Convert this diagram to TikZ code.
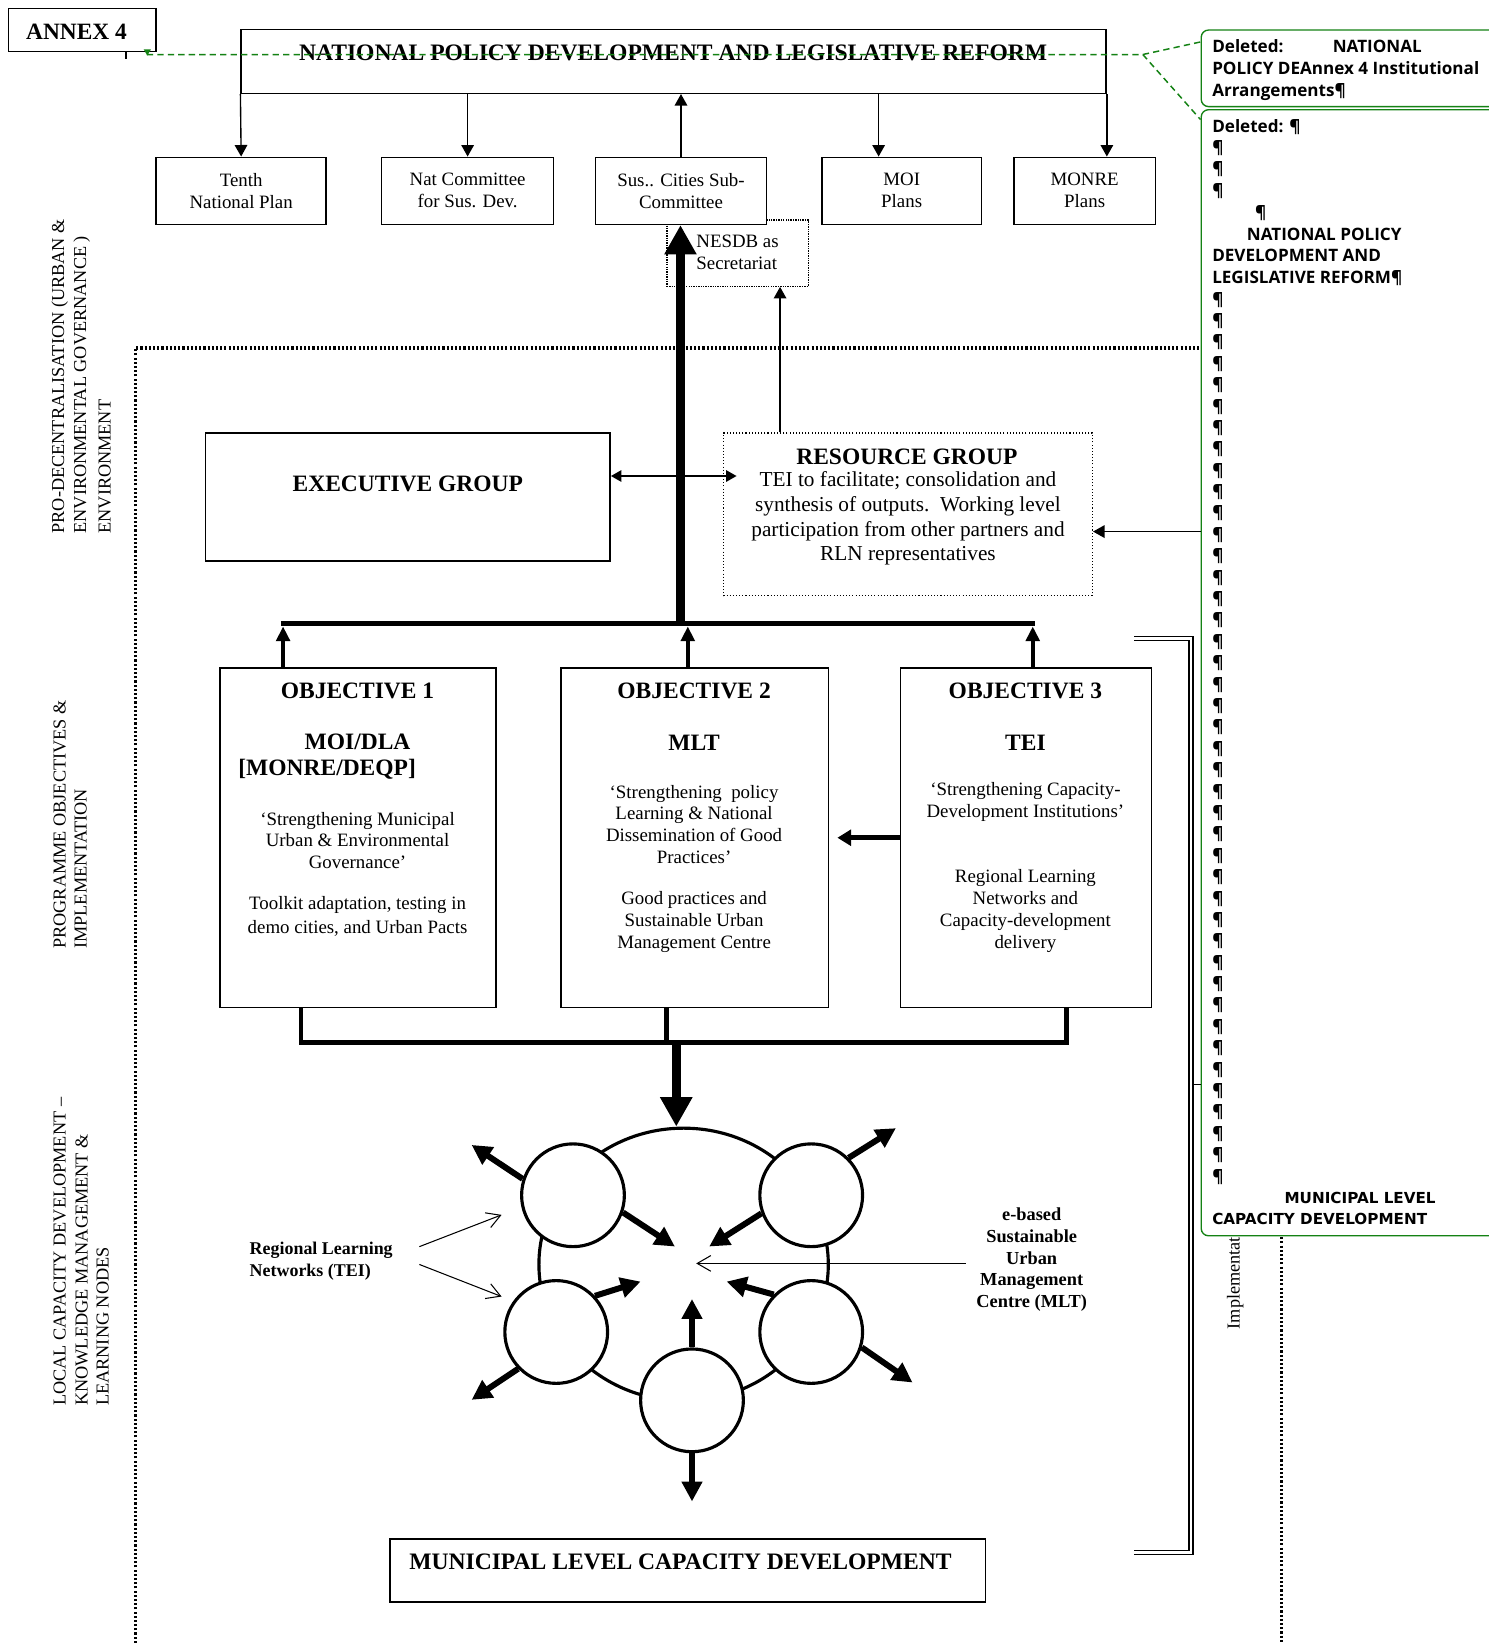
\documentclass[tikz,border=0pt]{standalone}
\usepackage{fontspec}
\setmainfont{Liberation Serif}
\newfontfamily\cmtfont{Open Sans}
\newfontfamily\cmtwide{DejaVu Sans}
\usetikzlibrary{arrows.meta,calc,shapes.geometric}
\definecolor{cmtgreen}{RGB}{20,130,20}
\newcommand\myfs[2]{\fontsize{#1}{#2}\selectfont}
\begin{document}
\begin{tikzpicture}[x=1pt,y=-1pt,
 box/.style={draw,line width=1.4pt,inner sep=0pt,fill=white},
 body/.style={inner sep=0pt,align=center,font=\myfs{18}{21}},
 bhead/.style={inner sep=0pt,align=center,font=\bfseries\myfs{22.4}{26}},
 arr/.style={line width=1.3pt,-{Triangle[length=11pt,width=12pt]}},
 dblarr/.style={line width=1.3pt,{Triangle[length=10pt,width=11pt]}-{Triangle[length=10pt,width=11pt]}},
 bigarr/.style={line width=9pt,-{Triangle[length=28pt,width=29pt]}},
 midarr/.style={line width=4pt,-{Triangle[length=14pt,width=13pt]}},
 cirarr/.style={line width=5.7pt,-{Triangle[length=19pt,width=19pt]}},
 barbarr/.style={line width=1pt,-{Straight Barb[length=13pt,width=15pt]}},
 dotframe/.style={line width=3.2pt,dash pattern=on 2pt off 2pt},
 gdash/.style={cmtgreen,line width=1.4pt,dash pattern=on 6pt off 4pt},
 cmtbox/.style={draw=cmtgreen,line width=1.3pt,rounded corners=7pt,fill=white,inner sep=0pt},
 cmt/.style={inner sep=0pt,anchor=base west,font=\cmtfont\bfseries\myfs{16.3}{20.4}},
 cmtw/.style={inner sep=0pt,anchor=base west,font=\cmtwide\bfseries\myfs{14.5}{20.4}},
 rot/.style={inner sep=0pt,rotate=90,anchor=west,font=\myfs{17.4}{20}},
 city/.style={circle,draw,line width=3pt,fill=white,minimum size=98pt,inner sep=0pt},
]
\useasboundingbox (0,0) rectangle (1420,1568);
\fill[white] (0,0) rectangle (1420,1568);

% dotted frame
\draw[dotframe] (129,1575) -- (129,332) -- (1222,332) -- (1222,1575);

% side labels
\node[rot] (l1a) at (57,509) {PRO-DECENTRALISATION (URBAN \&};
\node[rot] (l1b) at (78,509) {ENVIRONMENTAL GOVERNANCE )};
\node[rot] (l1c) at (100,509) {ENVIRONMENT};
\node[rot] (l2a) at (57,905) {PROGRAMME OBJECTIVES \&};
\node[rot] (l2b) at (77,905) {IMPLEMENTATION};
\node[rot] (l3a) at (57,1341) {LOCAL CAPACITY DEVELOPMENT –};
\node[rot] (l3b) at (78,1341) {KNOWLEDGE MANAGEMENT \&};
\node[rot] (l3c) at (98,1341) {LEARNING NODES};
\node[rot] (impl) at (1178,1268) {Implementat};

% comment panel
\node[cmtbox,minimum width=290pt,minimum height=73pt,anchor=north west] (panel1) at (1145,28) {};
\node[cmtbox,minimum width=290pt,minimum height=1074pt,anchor=north west] (panel2) at (1145,104) {};
\node[cmt] (p1a) at (1156,50) {\makebox[115pt][l]{Deleted:}NATIONAL};
\node[cmt] (p1b) at (1156,71) {POLICY DEAnnex 4 Institutional};
\node[cmt] (p1c) at (1156,92) {Arrangements¶};
\node[cmt] (p2a) at (1156,126) {Deleted: ¶};
\node[cmt] (p2b) at (1156,146) {¶};
\node[cmt] (p2c) at (1156,166) {¶};
\node[cmt] (p2d) at (1156,187) {¶};
\node[cmt] (p2e) at (1197,208) {¶};
\node[cmt] (p2f) at (1189,229) {NATIONAL POLICY};
\node[cmt] (p2g) at (1156,249) {DEVELOPMENT AND};
\node[cmt] (p2h) at (1156,270) {LEGISLATIVE REFORM¶};
\foreach \i in {0,...,41}{
  \node[cmt] (pil\i) at (1156,{291+20.4*\i}) {¶};
}
\node[cmtw] (p2m) at (1225,1148) {MUNICIPAL LEVEL};
\node[cmtw] (p2n) at (1156,1168) {CAPACITY DEVELOPMENT};

% ANNEX
\node[box,minimum width=141pt,minimum height=41pt] (annex) at (78.5,28.5) {};
\node[inner sep=0pt,font=\bfseries\myfs{22.3}{26}] (annexT) at (73,30) {ANNEX 4};
\coordinate (tickB) at (120,56);
\draw[line width=1.5pt] (annex.south -| tickB) -- (tickB);

% national policy
\node[box,minimum width=825pt,minimum height=61pt] (nat) at (642.5,58.5) {};
\node[inner sep=0pt,font=\bfseries\myfs{22.5}{26}] (natT) at (642,50) {NATIONAL POLICY DEVELOPMENT AND LEGISLATIVE REFORM};

% NESDB
\node[draw,densely dotted,line width=1.3pt,minimum width=135pt,minimum height=63pt,inner sep=0pt] (nesdb) at (703.5,241.5) {};
\node[body,align=left,anchor=west] (nesdbT) at (664,241) {NESDB as\\Secretariat};

% small boxes
\node[box,body,minimum width=162pt,minimum height=64pt] (tenth) at (230,182) {Tenth\\National Plan};
\node[box,body,minimum width=164pt,minimum height=64pt] (natc) at (446,182) {Nat Committee\\for Sus. Dev.};
\node[box,body,minimum width=163pt,minimum height=64pt] (susc) at (649.5,182) {Sus.. Cities Sub-\\Committee};
\node[box,body,minimum width=152pt,minimum height=64pt] (moi) at (860,182) {MOI\\Plans};
\node[box,body,minimum width=135pt,minimum height=64pt] (monre) at (1034.5,182) {MONRE\\Plans};

\draw[arr] (nat.south west) -- (tenth.north);
\draw[arr] (nat.south -| natc.north) -- (natc.north);
\draw[arr] (susc.north) -- (nat.south -| susc.north);
\coordinate (moiX) at (838,0);
\draw[arr] (nat.south -| moiX) -- (moi.north -| moiX);
\draw[arr] (nat.south east) -- (monre.north -| nat.south east);

% green dashed comment connectors
\draw[gdash] (140,52) coordinate (g0) -- (1090,52) coordinate (g1) -- ($(panel1.north west)+(0,12)$);
\draw[gdash] (g1) -- ($(panel2.north west)+(0,10)$);
\fill[cmtgreen] (137,47) -- (144,47) -- (140.5,53) -- cycle;

% executive / resource
\node[box,minimum width=386pt,minimum height=122pt] (exec) at (389,474) {};
\node[bhead] (execT) at (389,462) {EXECUTIVE GROUP};
\node[draw,dotted,line width=1pt,minimum width=352pt,minimum height=155pt,inner sep=0pt] (res) at (866,490.5) {};
\node[bhead] (resT) at (865,436) {RESOURCE GROUP};
\node[inner sep=0pt,align=center,font=\myfs{20.3}{23.7}] (resB) at (866,494.5) {TEI to facilitate; consolidation and\\synthesis of outputs.\ \ Working level\\participation from other partners and\\RLN representatives};

\coordinate (resUp) at (744,0);
\draw[arr] (res.north -| resUp) -- (nesdb.south -| resUp);
\coordinate (ex454) at (0,454);
\draw[dblarr] (exec.east |- ex454) -- ($(res.west |- ex454)+(13,0)$);
\coordinate (y507) at (0,507);
\draw[arr] (panel2.west |- y507) -- (res.east |- y507);

% bar and thick arrow up
\coordinate (barL) at (268,595);
\coordinate (barR) at (987,595);
\coordinate (barC) at (649,597);
\draw[line width=5pt] (barL) -- (barR);
\draw[bigarr] (barC) -- (susc.south -| barC);

% objectives
\node[box,minimum width=263pt,minimum height=324pt] (obj1) at (341.5,799) {};
\node[box,minimum width=255pt,minimum height=324pt] (obj2) at (662.5,799) {};
\node[box,minimum width=239pt,minimum height=324pt] (obj3) at (978.5,799) {};

\coordinate (b1) at (270,597.5);
\coordinate (b2) at (656,597.5);
\coordinate (b3) at (985,597.5);
\draw[midarr] (obj1.north -| b1) -- (b1);
\draw[midarr] (obj2.north -| b2) -- (b2);
\draw[midarr] (obj3.north -| b3) -- (b3);
\draw[line width=5pt,-{Triangle[length=13pt,width=15pt]}] (obj3.west) -- ([xshift=8pt]obj2.east);

\node[bhead] (o1h) at (341,659) {OBJECTIVE 1};
\node[bhead] (o1a) at (341,708) {MOI/DLA};
\node[bhead] (o1b) at (312,734) {[MONRE/DEQP]};
\node[body,font=\myfs{18}{20.6}] (o1c) at (341,801.5) {‘Strengthening Municipal\\Urban \& Environmental\\Governance’};
\node[body,font=\myfs{18}{22}] (o1d) at (341,874) {Toolkit adaptation, testing in\\demo cities, and Urban Pacts};

\node[bhead] (o2h) at (662,659) {OBJECTIVE 2};
\node[bhead] (o2a) at (662,708) {MLT};
\node[body,font=\myfs{18}{20.7}] (o2c) at (662,786) {‘Strengthening\ \ policy\\Learning \& National\\Dissemination of Good\\Practices’};
\node[body] (o2d) at (662,879) {Good practices and\\Sustainable Urban\\Management Centre};

\node[bhead] (o3h) at (978,659) {OBJECTIVE 3};
\node[bhead] (o3a) at (978,708) {TEI};
\node[body] (o3c) at (978,764.5) {‘Strengthening Capacity-\\Development Institutions’};
\node[body] (o3d) at (978,868.5) {Regional Learning\\Networks and\\Capacity-development\\delivery};

% bottom bracket
\coordinate (k1) at (287,994);
\coordinate (k2) at (636,994);
\coordinate (k3) at (1017,994);
\draw[line width=4.5pt] (obj1.south -| k1) -- (k1) -- (k3) -- (obj3.south -| k3);
\draw[line width=4.5pt] (obj2.south -| k2) -- (k2);

% ring and learning nodes
\node[ellipse,draw,line width=3pt,minimum width=276pt,minimum height=260pt,inner sep=0pt] (ring) at (652,1206) {};
\coordinate (dA) at (645,992);
\draw[bigarr] (dA) -- (ring.north -| dA);

\node[city] (c1) at (546.5,1140) {};
\node[city] (c2) at (773.7,1140) {};
\node[city] (c3) at (530.5,1270.4) {};
\node[city] (c4) at (773.7,1270.4) {};
\node[city] (c5) at (660,1335.6) {};

\coordinate (t1) at (449.8,1092);
\coordinate (t2) at (643.7,1188.9);
\coordinate (t3) at (854.5,1076);
\coordinate (t4) at (676.4,1188.9);
\coordinate (t5) at (449.8,1335.1);
\coordinate (t6) at (611,1222.3);
\coordinate (t7) at (693,1222.3);
\coordinate (t8) at (870.4,1318.6);
\coordinate (t9) at (660,1239);
\coordinate (t10) at (660,1432);
\draw[cirarr] (c1.162.7) -- (t1);
\draw[cirarr] (c1.-19.3) -- (t2);
\draw[cirarr] (c2.45) -- (t3);
\draw[cirarr] (c2.-160.4) -- (t4);
\draw[cirarr] (c3.224.4) -- (t5);
\draw[cirarr] (c3.43.8) -- (t6);
\draw[cirarr] (c4.135.6) -- (t7);
\draw[cirarr] (c4.-17.8) -- (t8);
\draw[cirarr] (c5.north) -- (t9);
\draw[cirarr] (c5.south) -- (t10);

% labels with thin arrows
\node[inner sep=0pt,align=left,anchor=west,font=\bfseries\myfs{17.1}{21.5}] (rln) at (238,1203) {Regional Learning\\Networks (TEI)};
\coordinate (rA) at (400,1189);
\coordinate (rB) at (400,1206);
\coordinate (rAt) at (478.4,1158.7);
\coordinate (rBt) at (478.4,1236.6);
\draw[barbarr] (rA) -- (rAt);
\draw[barbarr] (rB) -- (rBt);

\node[inner sep=0pt,align=center,font=\bfseries\myfs{17.5}{20.8}] (eb) at (984,1201.5) {e-based\\Sustainable\\Urban\\Management\\Centre (MLT)};
\coordinate (ebS) at (921,1205);
\coordinate (ebT) at (664,1205);
\draw[barbarr] (ebS) -- (ebT);

% municipal box
\node[box,minimum width=568pt,minimum height=60pt] (mun) at (656,1498) {};
\node[inner sep=0pt,font=\bfseries\myfs{22.5}{26}] (munT) at (649,1490) {MUNICIPAL LEVEL CAPACITY DEVELOPMENT};

% right double bracket
\draw[line width=1.3pt,double,double distance=2.6pt] (1082,609) -- (1136,609) -- (1136,1480.5) -- (1082,1480.5);
\coordinate (tk) at (1138,1034);
\draw[line width=1pt] (tk) -- (panel2.west |- tk);
\end{tikzpicture}
\end{document}
